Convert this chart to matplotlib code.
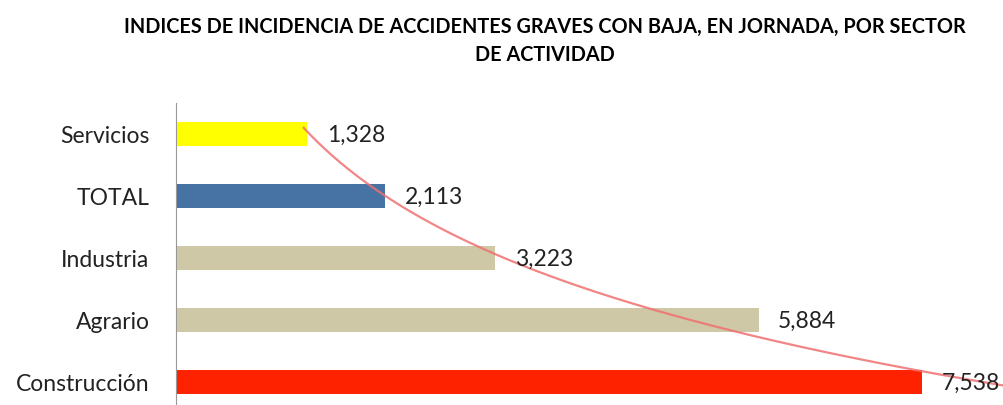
import matplotlib
matplotlib.use("Agg")
import matplotlib.pyplot as plt
import numpy as np

plt.rcParams['font.family'] = ['Lato', 'DejaVu Sans']

sectores = ['Servicios', 'TOTAL', 'Industria', 'Agrario', 'Construcción']
indices = [1.328, 2.113, 3.223, 5.884, 7.538]
etiquetas = ['1,328', '2,113', '3,223', '5,884', '7,538']
colores = ['#FFFF00', '#4673A3', '#CEC8A6', '#CEC8A6', '#FF2200']

fig = plt.figure(figsize=(10.04, 4.05), dpi=100)
ax = fig.add_axes([176/1004, 0, 828/1004, 302/405])

pos = np.arange(len(sectores))
ax.barh(pos, indices, height=0.39, color=colores)

for p, v, t in zip(pos, indices, etiquetas):
    ax.annotate(t, (v, p), xytext=(14, -1), textcoords='offset points',
                va='center', ha='left', fontsize=16.5, color='#222222')

# linea de tendencia exponencial
coef = np.polyfit(pos, np.log(indices), 1)
tt = np.linspace(-0.1, 4.3, 200)
ax.plot(np.exp(np.polyval(coef, tt)), tt, color='#F07070', lw=1.6, alpha=0.85)

ax.set_xlim(0, 828/99)
ax.set_ylim(4.37, -0.5)
ax.set_yticks(pos)
ax.set_yticklabels(sectores, fontsize=16.5, color='#222222')
ax.set_xticks([])
ax.tick_params(axis='y', length=0, pad=19)
for s in ['top', 'right', 'bottom']:
    ax.spines[s].set_visible(False)
ax.spines['left'].set_color('#999999')

fig.text(545/1004, 1 - 41/405,
         'INDICES DE INCIDENCIA DE ACCIDENTES GRAVES CON BAJA, EN JORNADA, POR SECTOR\nDE ACTIVIDAD',
         ha='center', va='center', fontsize=14.3, fontweight='bold', linespacing=1.45)

fig.savefig('out.png', dpi=100)
